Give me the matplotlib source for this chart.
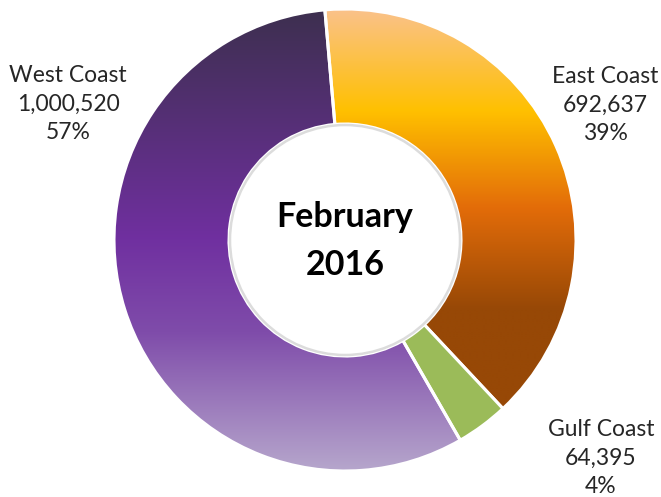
import matplotlib
matplotlib.use("Agg")
import matplotlib.pyplot as plt
import numpy as np
from matplotlib.colors import LinearSegmentedColormap
from matplotlib.patches import Circle

regions = ["East Coast", "Gulf Coast", "West Coast"]
volumes = [692637, 64395, 1000520]
title_lines = ["February", "2016"]

W, H = 661, 497
CX, CY = 345, H - 240
R_OUT, R_IN = 231, 116

east_cmap = LinearSegmentedColormap.from_list(
    "east", [(0.0, "#fac28a"), (0.22, "#ffc000"), (0.43, "#e36c09"),
             (0.65, "#974806"), (1.0, "#974806")])
west_cmap = LinearSegmentedColormap.from_list(
    "west", [(0.0, "#3d2f4f"), (0.5, "#7030a0"), (0.7, "#7f4caa"),
             (1.0, "#b6a6cc")])
gulf_color = "#9bbb59"

plt.rcParams["font.family"] = ["Lato", "DejaVu Sans"]

fig = plt.figure(figsize=(W / 100, H / 100), dpi=100)
ax = fig.add_axes([0, 0, 1, 1])

wedges, _ = ax.pie(volumes, center=(CX, CY), radius=R_OUT, startangle=95,
                   counterclock=False, frame=True,
                   wedgeprops=dict(width=R_OUT - R_IN, edgecolor="white",
                                   linewidth=2.2))
ax.set_xlim(0, W)
ax.set_ylim(0, H)
ax.set_aspect("equal")
ax.axis("off")

grad = np.linspace(0, 1, 256).reshape(-1, 1)
extent = (CX - R_OUT, CX + R_OUT, CY - R_OUT, CY + R_OUT)
for w, cmap in [(wedges[0], east_cmap), (wedges[2], west_cmap)]:
    w.set_facecolor("none")
    im = ax.imshow(grad, cmap=cmap, extent=extent, origin="upper",
                   aspect="auto", zorder=0.5, interpolation="bilinear")
    im.set_clip_path(w)
    w.set_zorder(1)
wedges[1].set_facecolor(gulf_color)

# subtle shadow inside the hole
ax.add_patch(Circle((CX, CY), R_IN - 1, facecolor="white", edgecolor="#dcdcdc",
                    linewidth=1.8, zorder=2))
ax.set_xlim(0, W)
ax.set_ylim(0, H)

total = sum(volumes)
pcts = [round(v / total * 100) for v in volumes]
label_pos = {"East Coast": (605, H - 105), "Gulf Coast": (601, H - 458),
             "West Coast": (68, H - 104)}
for name, v, p in zip(regions, volumes, pcts):
    x, y = label_pos[name]
    ax.text(x, y, f"{name}\n{v:,}\n{p}%", ha="center", va="center",
            fontsize=16.5, color="#262626", linespacing=1.42)

ax.text(CX, CY - 1, "\n".join(title_lines), ha="center", va="center",
        fontsize=24.5, weight="bold", color="black", linespacing=1.6)

fig.savefig("out.png", dpi=100, facecolor="white")
